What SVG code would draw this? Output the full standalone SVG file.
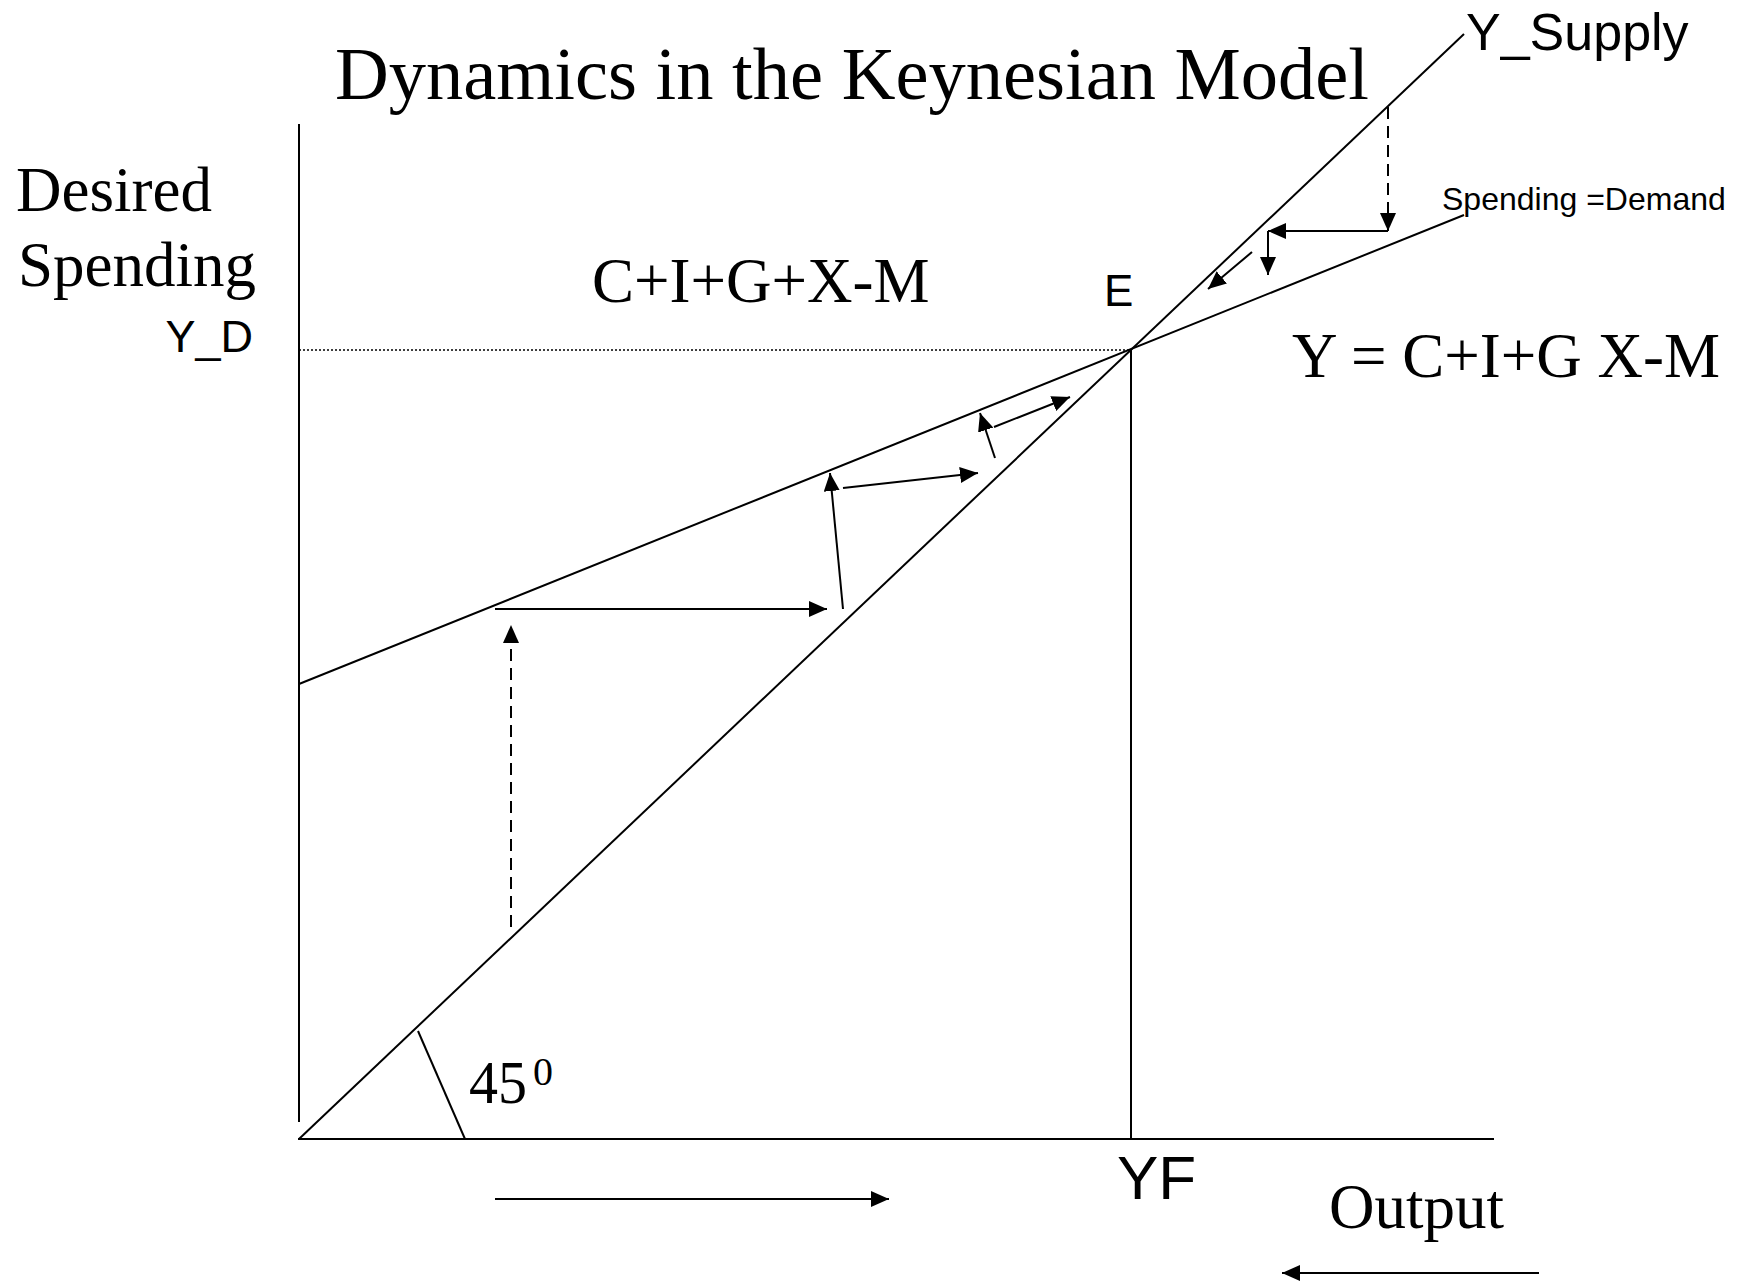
<svg xmlns="http://www.w3.org/2000/svg" width="1751" height="1285" viewBox="0 0 1751 1285">
<style>
.ln{stroke:#000;stroke-width:2;fill:none}
.ar{stroke:#000;stroke-width:2;fill:none;marker-end:url(#ah)}
.dash{stroke-dasharray:12 7}
.serif{font-family:"Liberation Serif","Times New Roman",serif;fill:#000}
.sans{font-family:"Liberation Sans",Arial,sans-serif;fill:#000}
</style>
<defs>
<marker id="ah" markerUnits="userSpaceOnUse" markerWidth="18" markerHeight="16" refX="18" refY="8" orient="auto">
<path d="M0,0 L18,8 L0,16 z" fill="#000"/>
</marker>
</defs>
<rect width="1751" height="1285" fill="#fff"/>
<g id="axes">
<line class="ln" x1="299" y1="124" x2="299" y2="1122"/>
<line class="ln" x1="298" y1="1139" x2="1494" y2="1139"/>
<line class="ln" x1="1131" y1="350" x2="1131" y2="1139"/>
<line stroke="#000" stroke-width="1.5" stroke-dasharray="2 2" x1="299" y1="350" x2="1131" y2="350"/>
</g>
<g id="supply-line">
<line class="ln" x1="299" y1="1139" x2="1464" y2="34"/>
<line class="ln" x1="418" y1="1031" x2="465" y2="1139"/>
</g>
<g id="demand-line">
<line class="ln" x1="299" y1="684" x2="1464" y2="215"/>
</g>
<g id="connectors">
<line class="ar dash" x1="511" y1="927" x2="511" y2="625"/>
<line class="ar" x1="495" y1="609" x2="827" y2="609"/>
<line class="ar" x1="843" y1="609" x2="830" y2="473"/>
<line class="ar" x1="843" y1="488" x2="978" y2="473"/>
<line class="ar" x1="995" y1="458" x2="980" y2="413"/>
<line class="ar" x1="994" y1="427" x2="1070" y2="397"/>
<line class="ar dash" x1="1388" y1="107" x2="1388" y2="231"/>
<line class="ar" x1="1388" y1="231" x2="1268" y2="231"/>
<line class="ar" x1="1268" y1="231" x2="1268" y2="275"/>
<line class="ar" x1="1252" y1="252" x2="1208" y2="289"/>
<line class="ar" x1="495" y1="1199" x2="889" y2="1199"/>
<line class="ar" x1="1539" y1="1273" x2="1282" y2="1273"/>
</g>
<g id="labels">
<text class="serif" x="335" y="99" font-size="75" textLength="1034" lengthAdjust="spacingAndGlyphs">Dynamics in the Keynesian Model</text>
<text class="serif" x="16" y="211" font-size="63">Desired</text>
<text class="serif" x="18" y="286" font-size="63">Spending</text>
<text class="sans" x="253" y="352" font-size="45" text-anchor="end">Y_D</text>
<text class="serif" x="592" y="302" font-size="63">C+I+G+X-M</text>
<text class="sans" x="1104" y="306" font-size="44">E</text>
<text class="sans" x="1466" y="50" font-size="52">Y_Supply</text>
<text class="sans" x="1442" y="210" font-size="32">Spending =Demand</text>
<text class="serif" x="1292" y="377" font-size="63">Y = C+I+G X-M</text>
<text class="serif" x="469" y="1103" font-size="62" textLength="58" lengthAdjust="spacingAndGlyphs">45</text>
<text class="serif" x="533" y="1085" font-size="40">0</text>
<text class="sans" x="1117" y="1199" font-size="62">YF</text>
<text class="serif" x="1329" y="1228" font-size="63">Output</text>
</g>
</svg>
